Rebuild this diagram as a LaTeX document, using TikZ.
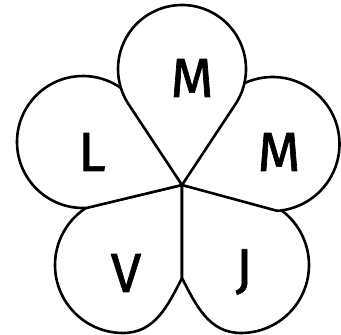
\documentclass[tikz,border=0pt]{standalone}
\usepackage{fontspec}
\newfontfamily\petalfont{Fira Sans}[FakeBold=1.2]
\usetikzlibrary{calc}
\tikzset{
  petal/.style={draw=black, fill=white, line width=2.6pt, line join=round},
  letter/.style={inner sep=0pt, font=\petalfont\fontsize{55}{55}\selectfont}
}
\begin{document}
\begin{tikzpicture}[x=1pt,y=1pt]
\useasboundingbox (0,0) rectangle (341,335);
\coordinate (T) at (182,150);
\coordinate (CV) at (123,70);
\coordinate (CJ) at (241,70);
\coordinate (CL) at (83,193);
\coordinate (CR) at (272.5,191);
\coordinate (CT) at (182,266);
% bottom petals
\draw[petal] (T) -- (182,57) to[out=243,in=0] ($(CV)+(270:68)$)
  arc[start angle=270, end angle=122.3, radius=68] -- cycle;
\draw[petal] (T) -- (182,57) to[out=297,in=180] ($(CJ)+(270:68)$)
  arc[start angle=270, end angle=417.7, radius=68] -- cycle;
% side petals
\draw[petal] (T) -- ($(CL)+(-86.5:66)$)
  arc[start angle=-86.5, end angle=-331.2, radius=66] -- cycle;
\draw[petal] (T) -- ($(CR)+(-86:67)$)
  arc[start angle=-86, end angle=156.8, radius=67] -- cycle;
% top petal
\draw[petal] (T) -- ($(CT)+(-33.49:64)$)
  arc[start angle=-33.49, end angle=213.49, radius=64] -- cycle;
% letters
\node[letter] (mtop) at (192,257) {M};
\node[letter] (mright) at (279,183) {M};
\node[letter] (l) at (92,183) {L};
\node[letter] (v) at (126,62) {V};
\node[letter] (j) at (244,63) {J};
\end{tikzpicture}
\end{document}
